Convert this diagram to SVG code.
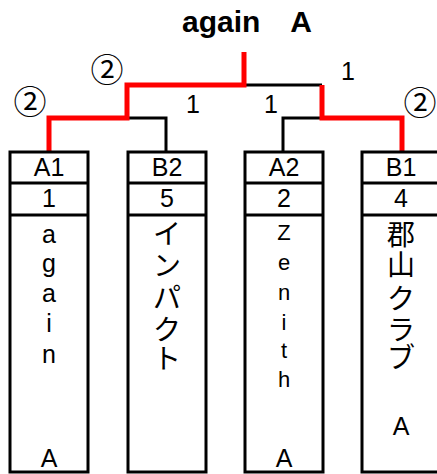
<svg xmlns="http://www.w3.org/2000/svg" width="437" height="474" viewBox="0 0 437 474">
<style>
.t{font-family:"Liberation Sans","Noto Sans CJK JP",sans-serif;fill:#000;text-anchor:middle}
.box{fill:#fff;stroke:#000;stroke-width:3}
.sep{stroke:#000;stroke-width:3}
.blk{fill:none;stroke:#000;stroke-width:3}
.red{fill:none;stroke:#f00;stroke-width:5}
.lbl{font-size:25px}
.v{font-size:25px}
.cjk{font-family:"Noto Sans CJK JP",sans-serif;font-size:28px;text-anchor:middle}
.circ{font-family:"Noto Sans CJK JP",sans-serif;font-size:33px;text-anchor:middle}
</style>
<rect width="437" height="474" fill="#fff"/>
<text class="t" x="182" y="32" style="font-size:30px;font-weight:bold;text-anchor:start" xml:space="preserve">again　A</text>
<g id="connectors">
<polyline class="blk" points="244,85 322,85"/>
<polyline class="blk" points="127,118 166,118 166,152"/>
<polyline class="blk" points="322,118 283,118 283,152"/>
<polyline class="red" points="244,52 244,85 127,85 127,118 49,118 49,152"/>
<polyline class="red" points="322,85 322,118 402,118 402,152"/>
</g>
<g id="scores">
<text class="circ" x="30" y="114">②</text>
<text class="circ" x="107" y="82">②</text>
<text class="circ" x="420" y="115">②</text>
<text class="t lbl" x="348" y="80">1</text>
<text class="t lbl" x="193" y="113">1</text>
<text class="t lbl" x="271" y="113">1</text>
</g>
<g id="A1">
<rect class="box" x="10" y="152" width="78" height="320"/>
<line class="sep" x1="10" y1="183" x2="88" y2="183"/>
<line class="sep" x1="10" y1="215" x2="88" y2="215"/>
<text class="t lbl" x="49" y="176">A1</text>
<text class="t lbl" x="49" y="207">1</text>
<text class="t v"><tspan x="49" y="243">a</tspan><tspan x="49" y="272">g</tspan><tspan x="49" y="302">a</tspan><tspan x="49" y="332">i</tspan><tspan x="49" y="363">n</tspan><tspan x="49" y="467">A</tspan></text>
</g>
<g id="B2">
<rect class="box" x="128" y="152" width="78" height="320"/>
<line class="sep" x1="128" y1="183" x2="206" y2="183"/>
<line class="sep" x1="128" y1="215" x2="206" y2="215"/>
<text class="t lbl" x="167" y="176">B2</text>
<text class="t lbl" x="167" y="207">5</text>
<text class="cjk"><tspan x="167" y="244">イ</tspan><tspan x="167" y="276">ン</tspan><tspan x="167" y="308">パ</tspan><tspan x="167" y="340">ク</tspan><tspan x="167" y="369">ト</tspan></text>
</g>
<g id="A2">
<rect class="box" x="245" y="152" width="78" height="320"/>
<line class="sep" x1="245" y1="183" x2="323" y2="183"/>
<line class="sep" x1="245" y1="215" x2="323" y2="215"/>
<text class="t lbl" x="284" y="176">A2</text>
<text class="t lbl" x="284" y="207">2</text>
<text class="t" style="font-size:22px"><tspan x="284" y="240">Z</tspan><tspan x="284" y="270">e</tspan><tspan x="284" y="300">n</tspan><tspan x="284" y="330">i</tspan><tspan x="284" y="358">t</tspan><tspan x="284" y="387">h</tspan><tspan x="284" y="467" style="font-size:25px">A</tspan></text>
</g>
<g id="B1">
<rect class="box" x="362" y="152" width="84" height="320"/>
<line class="sep" x1="362" y1="183" x2="446" y2="183"/>
<line class="sep" x1="362" y1="215" x2="446" y2="215"/>
<text class="t lbl" x="401" y="176">B1</text>
<text class="t lbl" x="401" y="207">4</text>
<text class="cjk"><tspan x="401" y="245">郡</tspan><tspan x="401" y="275">山</tspan><tspan x="401" y="309">ク</tspan><tspan x="401" y="340">ラ</tspan><tspan x="401" y="368">ブ</tspan></text>
<text class="t v" x="401" y="435">A</text>
</g>
</svg>
